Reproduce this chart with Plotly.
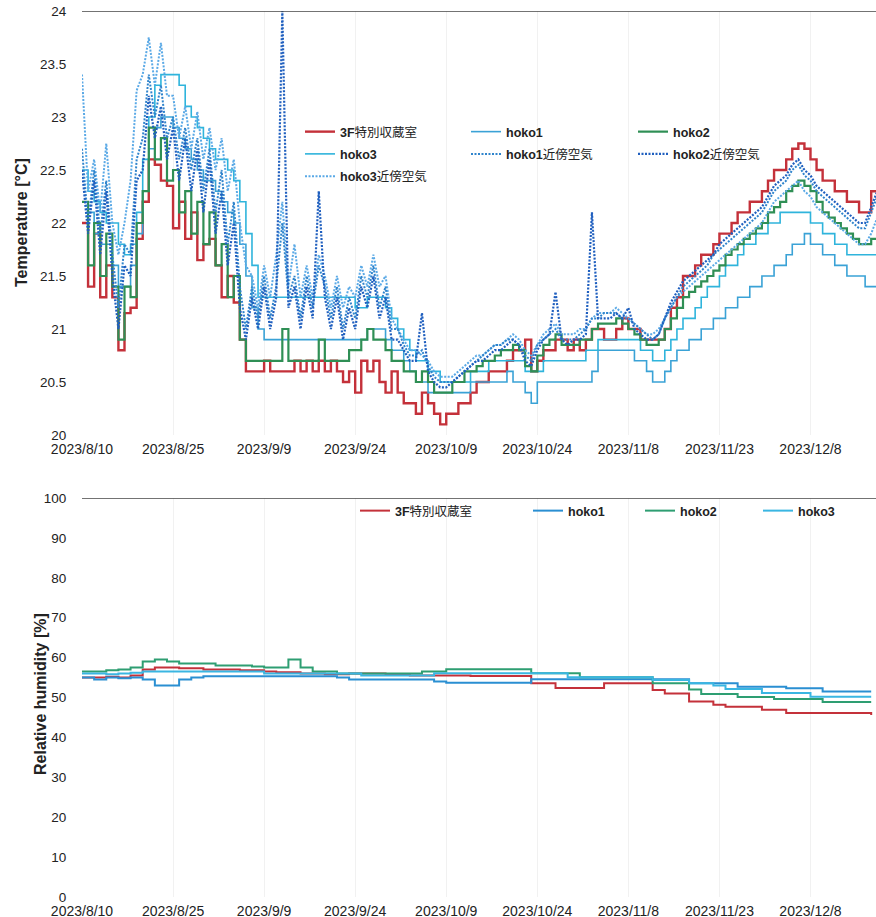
import plotly.graph_objects as go
import pandas as pd

# ---------------- data ----------------
start_date = "2023-08-10"
n_days = 132
tick_labels = ["2023/8/10", "2023/8/25", "2023/9/9", "2023/9/24", "2023/10/9",
               "2023/10/24", "2023/11/8", "2023/11/23", "2023/12/8"]
tick_dates = ["2023-08-10", "2023-08-25", "2023-09-09", "2023-09-24", "2023-10-09",
              "2023-10-24", "2023-11-08", "2023-11-23", "2023-12-08"]

# Temperature [°C], one value per day from 2023/8/10
temp_3f = [22.0, 21.4, 21.9, 21.3, 21.6, 21.3, 20.8, 21.15, 21.2, 21.85,
           22.2, 22.6, 22.55, 22.4, 22.35, 21.95, 22.2, 21.85, 22.1, 21.65,
           21.8, 21.85, 21.6, 21.3, 21.5, 21.25, 20.9, 20.6, 20.6, 20.6,
           20.7, 20.6, 20.6, 20.6, 20.6, 20.7, 20.6, 20.7, 20.6, 20.7,
           20.6, 20.7, 20.6, 20.5, 20.6, 20.4, 20.7, 20.6, 20.7, 20.5,
           20.4, 20.6, 20.4, 20.3, 20.3, 20.2, 20.4, 20.3, 20.2, 20.1,
           20.2, 20.2, 20.3, 20.3, 20.4, 20.5, 20.5, 20.6, 20.6, 20.6,
           20.7, 20.8, 20.8, 20.9, 20.6, 20.7, 20.8, 20.8, 20.9, 20.9,
           20.8, 20.9, 20.8, 20.9, 21.0, 21.0, 20.9, 20.9, 21.0, 21.1,
           21.0, 21.0, 20.9, 20.9, 20.9, 20.9, 21.0, 21.2, 21.3, 21.5,
           21.5, 21.6, 21.7, 21.7, 21.8, 21.9, 21.9, 22.0, 22.1, 22.1,
           22.2, 22.2, 22.3, 22.4, 22.5, 22.5, 22.6, 22.7, 22.75, 22.7,
           22.6, 22.5, 22.4, 22.4, 22.3, 22.3, 22.2, 22.2, 22.1, 22.1, 22.3, 22.4]

temp_hoko1 = [22.2, 22.1, 21.9, 21.8, 21.8, 21.6, 21.4, 21.4, 21.6, 21.9,
              22.3, 22.7, 22.9, 23.0, 23.0, 22.9, 22.8, 22.7, 22.6, 22.5,
              22.4, 22.4, 22.3, 22.2, 22.1, 22.0, 21.8, 21.5, 21.2, 21.0,
              20.9, 20.9, 20.9, 20.9, 20.9, 20.9, 20.9, 20.9, 20.9, 20.9,
              20.9, 20.9, 20.9, 20.9, 20.9, 20.9, 20.9, 21.0, 21.0, 21.0,
              20.9, 20.8, 20.8, 20.7, 20.6, 20.5, 20.5, 20.4, 20.4, 20.4,
              20.4, 20.4, 20.4, 20.4, 20.5, 20.5, 20.5, 20.5, 20.5, 20.5,
              20.6, 20.5, 20.5, 20.4, 20.3, 20.5, 20.5, 20.5, 20.5, 20.5,
              20.5, 20.5, 20.5, 20.5, 20.6, 20.8, 20.8, 20.8, 20.8, 20.8,
              20.8, 20.7, 20.7, 20.6, 20.5, 20.5, 20.6, 20.7, 20.8, 20.8,
              20.9, 20.9, 21.0, 21.0, 21.1, 21.1, 21.2, 21.2, 21.3, 21.3,
              21.4, 21.4, 21.5, 21.5, 21.6, 21.6, 21.7, 21.8, 21.8, 21.9,
              21.8, 21.8, 21.7, 21.7, 21.6, 21.6, 21.5, 21.5, 21.5, 21.4, 21.4, 21.5]

temp_hoko2 = [22.2, 21.6, 22.0, 21.5, 21.9, 21.4, 20.9, 21.4, 21.3, 22.0,
              22.3, 22.9, 22.6, 22.8, 22.4, 22.5, 22.1, 22.3, 21.9, 22.2,
              21.8, 22.1, 21.6, 21.8, 21.3, 21.5, 20.9, 20.7, 20.7, 20.7,
              20.7, 20.7, 20.7, 21.0, 20.7, 20.7, 20.7, 20.7, 20.7, 20.9,
              20.7, 20.7, 20.7, 20.7, 20.8, 20.8, 20.9, 21.0, 20.9, 20.9,
              20.8, 20.7, 20.7, 20.6, 20.6, 20.5, 20.6, 20.5, 20.4, 20.4,
              20.4, 20.5, 20.5, 20.6, 20.6, 20.65, 20.7, 20.7, 20.75, 20.8,
              20.8, 20.85, 20.8, 20.65, 20.6, 20.75, 20.85, 20.9, 20.95, 20.85,
              20.85, 20.85, 20.9, 20.9, 21.0, 21.05, 21.05, 21.05, 21.1, 21.05,
              21.0, 20.95, 20.9, 20.85, 20.85, 20.9, 21.0, 21.1, 21.2, 21.3,
              21.35, 21.4, 21.45, 21.5, 21.55, 21.6, 21.7, 21.75, 21.8, 21.85,
              21.9, 21.95, 22.0, 22.1, 22.15, 22.2, 22.3, 22.35, 22.4, 22.35,
              22.3, 22.2, 22.1, 22.05, 22.0, 21.95, 21.9, 21.85, 21.8, 21.8, 21.85, 22.0]

temp_hoko3 = [22.5, 22.3, 22.2, 22.1, 22.0, 22.0, 21.8, 21.7, 21.8, 22.1,
              22.6, 23.0, 23.3, 23.4, 23.4, 23.4, 23.3, 23.1, 23.0, 22.9,
              22.8, 22.7, 22.6, 22.6, 22.5, 22.4, 22.2, 21.9, 21.6, 21.3,
              21.3, 21.3, 21.3, 21.3, 21.3, 21.3, 21.3, 21.3, 21.3, 21.3,
              21.3, 21.3, 21.3, 21.3, 21.3, 21.2, 21.2, 21.3, 21.3, 21.3,
              21.2, 21.1, 21.0, 20.9, 20.8, 20.7, 20.7, 20.6, 20.6, 20.5,
              20.5, 20.5, 20.5, 20.5, 20.6, 20.6, 20.6, 20.7, 20.7, 20.7,
              20.7, 20.7, 20.7, 20.6, 20.6, 20.6, 20.7, 20.7, 20.7, 20.7,
              20.7, 20.7, 20.7, 20.8, 20.8, 20.9, 20.9, 20.9, 20.9, 20.9,
              20.9, 20.9, 20.8, 20.8, 20.7, 20.7, 20.8, 20.9, 21.0, 21.1,
              21.1, 21.2, 21.3, 21.4, 21.4, 21.5, 21.6, 21.6, 21.7, 21.8,
              21.8, 21.9, 21.9, 22.0, 22.0, 22.1, 22.1, 22.1, 22.1, 22.1,
              22.0, 22.0, 21.9, 21.9, 21.8, 21.8, 21.7, 21.7, 21.7, 21.7, 21.7, 21.8]

temp_hoko1_air = [22.7, 22.0, 22.5, 21.9, 22.4, 21.7, 21.2, 21.8, 21.7, 22.6,
                  22.8, 23.4, 23.0, 23.3, 22.8, 23.0, 22.6, 22.9, 22.5, 22.8,
                  22.3, 22.7, 22.1, 22.5, 21.8, 22.2, 21.4, 21.0, 21.4, 21.1,
                  21.5, 21.1, 21.4, 22.0, 21.3, 21.5, 21.1, 21.5, 21.2, 21.6,
                  21.4, 21.1, 21.4, 21.0, 21.3, 21.1, 21.5, 21.3, 21.6, 21.2,
                  21.4, 21.0, 21.0, 20.85, 20.75, 20.75, 20.8, 20.65, 20.55, 20.5,
                  20.5, 20.5, 20.55, 20.6, 20.65, 20.7, 20.75, 20.8, 20.85, 20.85,
                  20.9, 20.9, 20.85, 20.75, 20.7, 20.85, 20.9, 20.95, 21.0, 20.9,
                  20.9, 20.9, 20.95, 21.0, 21.1, 21.1, 21.15, 21.15, 21.15, 21.1,
                  21.1, 21.05, 21.0, 20.95, 20.9, 20.95, 21.1, 21.2, 21.3, 21.4,
                  21.45, 21.5, 21.55, 21.6, 21.7, 21.75, 21.8, 21.85, 21.9, 21.95,
                  22.0, 22.05, 22.1, 22.2, 22.3, 22.35, 22.4, 22.5, 22.55, 22.45,
                  22.4, 22.3, 22.25, 22.2, 22.15, 22.1, 22.05, 22.0, 21.95, 21.95, 22.1, 22.25]

temp_hoko2_air = [22.5, 21.9, 22.4, 21.7, 22.3, 21.5, 21.0, 21.6, 21.5, 22.4,
                  22.5, 23.2, 22.8, 23.1, 22.6, 22.9, 22.4, 22.8, 22.3, 22.7,
                  22.1, 22.6, 21.9, 22.3, 21.6, 22.0, 21.2, 20.9, 21.3, 21.0,
                  21.4, 21.0, 21.3, 24.0, 21.2, 21.4, 21.0, 21.4, 21.1, 22.3,
                  21.3, 21.0, 21.3, 20.9, 21.2, 21.0, 21.4, 21.2, 21.5, 21.1,
                  21.3, 20.9, 20.9, 20.8, 20.7, 20.7, 21.15, 20.6, 20.5, 20.45,
                  20.45, 20.5, 20.55, 20.6, 20.65, 20.7, 20.7, 20.75, 20.8, 20.8,
                  20.85, 20.9, 20.85, 20.7, 20.65, 20.8, 20.9, 20.95, 21.35, 20.9,
                  20.85, 20.9, 20.9, 20.95, 22.1, 21.1, 21.1, 21.1, 21.15, 21.1,
                  21.2, 21.0, 20.95, 20.9, 20.9, 20.95, 21.1, 21.25, 21.35, 21.45,
                  21.5, 21.55, 21.6, 21.65, 21.7, 21.8, 21.85, 21.9, 21.95, 22.0,
                  22.05, 22.1, 22.15, 22.25, 22.35, 22.4, 22.45, 22.55, 22.6, 22.5,
                  22.45, 22.35, 22.3, 22.25, 22.2, 22.15, 22.1, 22.05, 22.0, 22.0, 22.15, 22.3]

temp_hoko3_air = [23.4, 22.3, 22.6, 22.1, 22.75, 22.0, 21.7, 22.0, 22.4, 23.25,
                  23.4, 23.75, 23.3, 23.7, 23.2, 23.2, 22.8, 23.1, 22.7, 23.05,
                  22.6, 22.9, 22.5, 22.8, 22.3, 22.6, 22.0, 21.6, 21.5, 21.2,
                  21.6, 21.3, 21.7, 22.2, 21.4, 21.8, 21.3, 21.6, 21.3, 21.7,
                  21.5, 21.2, 21.5, 21.2, 21.4, 21.3, 21.6, 21.4, 21.7, 21.4,
                  21.5, 21.1, 21.0, 20.9, 20.8, 20.8, 20.75, 20.7, 20.6, 20.55,
                  20.55, 20.55, 20.6, 20.65, 20.7, 20.75, 20.75, 20.8, 20.85, 20.85,
                  20.9, 20.95, 20.9, 20.8, 20.75, 20.85, 20.95, 21.0, 21.05, 20.95,
                  20.95, 20.95, 21.0, 21.0, 21.1, 21.15, 21.15, 21.15, 21.2, 21.15,
                  21.1, 21.05, 21.0, 20.95, 20.95, 21.0, 21.1, 21.2, 21.3, 21.35,
                  21.4, 21.45, 21.5, 21.55, 21.6, 21.65, 21.7, 21.75, 21.8, 21.85,
                  21.9, 21.95, 22.0, 22.1, 22.2, 22.25, 22.3, 22.35, 22.4, 22.3,
                  22.25, 22.15, 22.1, 22.05, 22.0, 21.95, 21.9, 21.85, 21.8, 21.8, 21.9, 22.05]

# Relative humidity [%], one value every 2 days from 2023/8/10
rh_step_days = 2
rh_3f = [55.0, 55.0, 55.2, 55.0, 55.5, 57.0, 57.5, 57.5, 57.3, 57.3,
         57.0, 57.0, 57.0, 56.8, 56.8, 56.5, 56.3, 56.3, 56.0, 56.0,
         55.8, 55.8, 56.0, 56.0, 56.0, 55.8, 55.8, 55.5, 55.5, 55.5,
         55.5, 55.5, 55.4, 55.4, 55.4, 55.4, 55.4, 53.6, 53.6, 52.4,
         52.4, 52.4, 52.4, 53.6, 53.6, 53.6, 53.6, 51.9, 51.0, 51.0,
         49.0, 49.0, 48.2, 47.7, 47.7, 47.7, 46.9, 46.9, 46.1, 46.1,
         46.1, 46.1, 46.1, 46.1, 46.1, 45.6]
rh_hoko1 = [55.0, 54.5, 55.0, 54.8, 55.0, 54.5, 53.0, 53.0, 54.5, 55.0,
            55.3, 55.3, 55.3, 55.3, 55.3, 55.3, 55.3, 55.3, 55.3, 55.3,
            55.3, 55.0, 54.5, 54.5, 54.5, 54.5, 54.5, 54.5, 54.5, 54.0,
            53.7, 53.7, 53.7, 53.7, 53.7, 53.7, 53.7, 54.6, 54.6, 54.6,
            54.6, 54.6, 54.6, 54.6, 54.6, 54.6, 54.6, 54.6, 54.6, 54.6,
            53.6, 53.6, 53.6, 53.6, 52.7, 52.7, 52.7, 52.7, 52.3, 52.3,
            52.3, 51.5, 51.5, 51.5, 51.5, 51.5]
rh_hoko2 = [56.5, 56.5, 56.8, 57.0, 57.5, 59.0, 59.5, 59.0, 58.5, 58.5,
            58.5, 58.0, 58.0, 58.0, 57.8, 57.5, 57.5, 59.5, 57.5, 56.5,
            56.5, 56.0, 56.0, 56.0, 56.0, 56.0, 56.0, 56.0, 56.5, 56.5,
            57.1, 57.1, 57.1, 57.1, 57.1, 57.1, 57.1, 56.1, 56.1, 56.1,
            56.1, 55.1, 55.1, 55.1, 55.1, 55.1, 55.1, 53.6, 53.6, 53.6,
            52.0, 50.9, 50.9, 50.9, 50.1, 50.1, 50.1, 49.6, 49.6, 49.6,
            49.6, 48.9, 48.9, 48.9, 48.9, 48.9]
rh_hoko3 = [56.0, 56.0, 55.8, 56.0, 56.2, 56.5, 56.5, 56.5, 56.5, 56.5,
            56.5, 56.5, 56.5, 56.5, 56.5, 56.0, 56.0, 56.0, 56.0, 56.0,
            56.0, 56.0, 56.0, 55.5, 55.5, 55.5, 55.5, 55.5, 55.5, 56.1,
            56.1, 56.1, 56.1, 56.1, 56.1, 56.1, 56.1, 56.1, 56.1, 56.1,
            55.1, 55.1, 55.1, 55.1, 55.1, 55.1, 55.1, 54.4, 54.4, 54.4,
            53.6, 53.6, 53.0, 52.1, 52.1, 52.1, 51.1, 51.1, 51.1, 51.1,
            50.2, 50.2, 50.2, 50.2, 50.2, 50.2]

# ---------------- figure ----------------
dates = pd.date_range(start_date, periods=n_days, freq="D").strftime("%Y-%m-%d").tolist()
rh_dates = pd.date_range(start_date, periods=len(rh_3f),
                         freq=f"{rh_step_days}D").strftime("%Y-%m-%d").tolist()

FONT = "Liberation Sans, Arial, Noto Sans CJK JP, sans-serif"
RED = "#c4313a"
GREEN = "#2f8f55"
LBLUE = "#3aa2d6"
CYAN = "#2fb4dc"
DBLUE = "#1f5fbf"
MBLUE = "#2f84cc"
SKY = "#5aa9e6"
DOTS = "2px,1.5px"

W, H = 876, 917
ML, MR, MT, MB = 82, 0, 11, 20
PW, PH = W - ML - MR, H - MT - MB

fig = go.Figure()

temp_traces = [
    ("<b>3F</b>特別収蔵室", temp_3f, RED, "solid", 2.4, "hv", "legend"),
    ("<b>hoko1</b>", temp_hoko1, LBLUE, "solid", 1.6, "hv", "legend2"),
    ("<b>hoko3</b>", temp_hoko3, CYAN, "solid", 1.6, "hv", "legend"),
    ("<b>hoko2</b>", temp_hoko2, GREEN, "solid", 2.2, "hv", "legend3"),
    ("<b>hoko3</b>近傍空気", temp_hoko3_air, SKY, DOTS, 2.0, "linear", "legend"),
    ("<b>hoko1</b>近傍空気", temp_hoko1_air, MBLUE, DOTS, 2.0, "linear", "legend2"),
    ("<b>hoko2</b>近傍空気", temp_hoko2_air, DBLUE, DOTS, 2.2, "linear", "legend3"),
]
for i, (name, vals, col, dash, w, shape, leg) in enumerate(temp_traces):
    fig.add_trace(go.Scatter(x=dates, y=vals, name=name, mode="lines",
                             legendgroup=f"t{i}",
                             line=dict(color=col, dash=dash, width=w, shape=shape),
                             xaxis="x", yaxis="y", legend=leg))

rh_traces = [
    ("<b>3F</b>特別収蔵室", rh_3f, "#c4313a", "legend4"),
    ("<b>hoko1</b>", rh_hoko1, "#2a8fd2", "legend5"),
    ("<b>hoko2</b>", rh_hoko2, "#2e9e72", "legend6"),
    ("<b>hoko3</b>", rh_hoko3, "#3ab6e2", "legend7"),
]
for name, vals, col, leg in rh_traces:
    fig.add_trace(go.Scatter(x=rh_dates, y=vals, name=name, mode="lines",
                             line=dict(color=col, width=2.0, shape="hv"),
                             xaxis="x2", yaxis="y2", legend=leg))

x_range = ["2023-08-10", "2023-12-18 19:00:00"]
xcommon = dict(type="date", range=x_range, tickmode="array", tickvals=tick_dates,
               ticktext=tick_labels, showgrid=True, gridcolor="#f1f1f1",
               zeroline=False, showline=False, automargin=False,
               ticks="outside", ticklen=1, tickcolor="rgba(0,0,0,0)",
               tickfont=dict(family=FONT, size=14, color="#222"))
ycommon = dict(showgrid=False, zeroline=False, showline=False, automargin=False,
               ticks="outside", ticklen=12, tickcolor="rgba(0,0,0,0)",
               tickfont=dict(family=FONT, size=13.5, color="#222"))

top_dom = [(H - MB - 435) / PH, 1.0]
bot_dom = [0.0, (H - MB - 498) / PH]


def px_x(px):
    return (px - ML) / PW


def px_y(py):
    return (H - MB - py) / PH


fig.update_layout(
    width=W, height=H,
    margin=dict(l=ML, r=MR, t=MT, b=MB),
    paper_bgcolor="white", plot_bgcolor="white",
    font=dict(family=FONT, color="#222"),
    xaxis=dict(domain=[0, 1], anchor="y", **xcommon),
    xaxis2=dict(domain=[0, 1], anchor="y2", **xcommon),
    yaxis=dict(domain=top_dom, anchor="x", range=[20, 24], dtick=0.5, **ycommon),
    yaxis2=dict(domain=bot_dom, anchor="x2", range=[0, 100], dtick=10, **ycommon),
    shapes=[
        dict(type="line", xref="x domain", yref="y", x0=0, x1=1, y0=24, y1=24,
             line=dict(color="#444", width=1.5)),
        dict(type="line", xref="x2 domain", yref="y2", x0=0, x1=1, y0=100, y1=100,
             line=dict(color="#444", width=1.5)),
    ],
    annotations=[
        dict(text="<b>Temperature [°C]</b>", xref="paper", yref="paper",
             x=px_x(21), y=px_y(223), textangle=-90, showarrow=False,
             xanchor="center", yanchor="middle", font=dict(family=FONT, size=16)),
        dict(text="<b>Relative humidity [%]</b>", xref="paper", yref="paper",
             x=px_x(40), y=px_y(694), textangle=-90, showarrow=False,
             xanchor="center", yanchor="middle", font=dict(family=FONT, size=16)),
    ],
    showlegend=True,
)


def leg(px, py):
    return dict(xref="paper", yref="paper", x=px_x(px), y=px_y(py),
                xanchor="left", yanchor="top", bgcolor="rgba(0,0,0,0)",
                font=dict(family=FONT, size=12.5, color="#222"),
                itemwidth=30, tracegroupgap=3, orientation="v")


fig.update_layout(
    legend=leg(300, 117), legend2=leg(466, 117), legend3=leg(633, 117),
    legend4=leg(355, 496), legend5=leg(528, 496), legend6=leg(640, 496),
    legend7=leg(758, 496),
)

fig.write_html("out.html", config={"displayModeBar": False},
               post_script="document.body.style.margin='0';"
                           "document.body.style.overflow='hidden';")
